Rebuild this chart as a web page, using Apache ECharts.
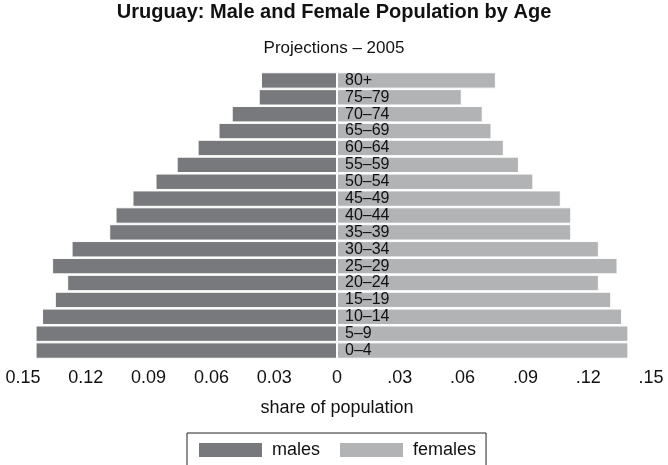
<!DOCTYPE html>
<html>
<head>
<meta charset="utf-8">
<script src="https://cdn.jsdelivr.net/npm/echarts@6/dist/echarts.min.js"></script>
<style>
  html, body { margin: 0; padding: 0; background: #fff; }
  #chart { width: 668px; height: 465px; }
</style>
</head>
<body>
<div id="chart"></div>
<script>
// age groups, bottom to top
const ages = ['0–4', '5–9', '10–14', '15–19', '20–24', '25–29', '30–34', '35–39',
  '40–44', '45–49', '50–54', '55–59', '60–64', '65–69', '70–74', '75–79', '80+']

// share of population (males drawn to the left)
const males = [0.1440, 0.1440, 0.1409, 0.1348, 0.1289, 0.1361, 0.1268, 0.1088,
  0.1058, 0.0977, 0.0867, 0.0766, 0.0666, 0.0566, 0.0503, 0.0374, 0.0363]
const females = [0.1392, 0.1392, 0.1362, 0.1310, 0.1251, 0.1340, 0.1251, 0.1119,
  0.1119, 0.1069, 0.0938, 0.0869, 0.0797, 0.0738, 0.0696, 0.0596, 0.0759]

const maleColor = '#78797c'
const femaleColor = '#b1b3b5'
const font = 'Liberation Sans, Arial, Helvetica, sans-serif'

const tickLabel = (v) => {
  const r = Math.round(Math.abs(v) * 100) / 100
  if (r === 0) return '0'
  const s = r.toFixed(2)
  return v < 0 ? s : s.slice(1)
}

const option = {
  animation: false,
  textStyle: { fontFamily: font },
  title: [
    {
      text: 'Uruguay: Male and Female Population by Age',
      left: 'center',
      top: 2,
      padding: 0,
      textStyle: { fontFamily: font, fontSize: 20, fontWeight: 'bold', color: '#111' }
    },
    {
      text: 'Projections – 2005',
      left: 'center',
      top: 40,
      padding: 0,
      textStyle: { fontFamily: font, fontSize: 17, fontWeight: 'normal', color: '#111' }
    }
  ],
  legend: {
    left: 187,
    top: 433,
    padding: [8, 10, 20, 10],
    borderColor: '#222',
    borderWidth: 1,
    itemWidth: 65,
    itemHeight: 16,
    itemGap: 18,
    icon: 'rect',
    textStyle: { fontFamily: font, fontSize: 18, color: '#111', padding: [0, 0, 0, 4] },
    data: ['males', 'females']
  },
  grid: {
    left: 23,
    right: 17,
    top: 72,
    bottom: 106
  },
  xAxis: {
    type: 'value',
    min: -0.15,
    max: 0.15,
    interval: 0.03,
    name: 'share of population',
    nameLocation: 'middle',
    nameGap: 40,
    nameTextStyle: { fontFamily: font, fontSize: 18, color: '#111' },
    axisLine: { show: false },
    axisTick: { show: false },
    splitLine: { show: false },
    axisLabel: {
      margin: 10,
      fontFamily: font,
      fontSize: 18,
      color: '#111',
      formatter: tickLabel
    }
  },
  yAxis: {
    type: 'category',
    data: ages,
    axisLine: { show: false },
    axisTick: { show: false },
    axisLabel: { show: false },
    splitLine: { show: false }
  },
  series: [
    {
      name: 'males',
      type: 'bar',
      data: males.map(v => -v),
      barCategoryGap: '3%',
      barGap: '-100%',
      itemStyle: { color: maleColor, borderColor: '#fff', borderWidth: 1 }
    },
    {
      name: 'females',
      type: 'bar',
      data: females,
      barCategoryGap: '3%',
      barGap: '-100%',
      itemStyle: { color: femaleColor, borderColor: '#fff', borderWidth: 1 },
      label: {
        show: true,
        position: 'insideLeft',
        distance: 8,
        formatter: '{b}',
        fontFamily: font,
        fontSize: 16,
        color: '#111'
      }
    }
  ]
}

const chart = echarts.init(document.getElementById('chart'))
chart.setOption(option)
</script>
</body>
</html>
